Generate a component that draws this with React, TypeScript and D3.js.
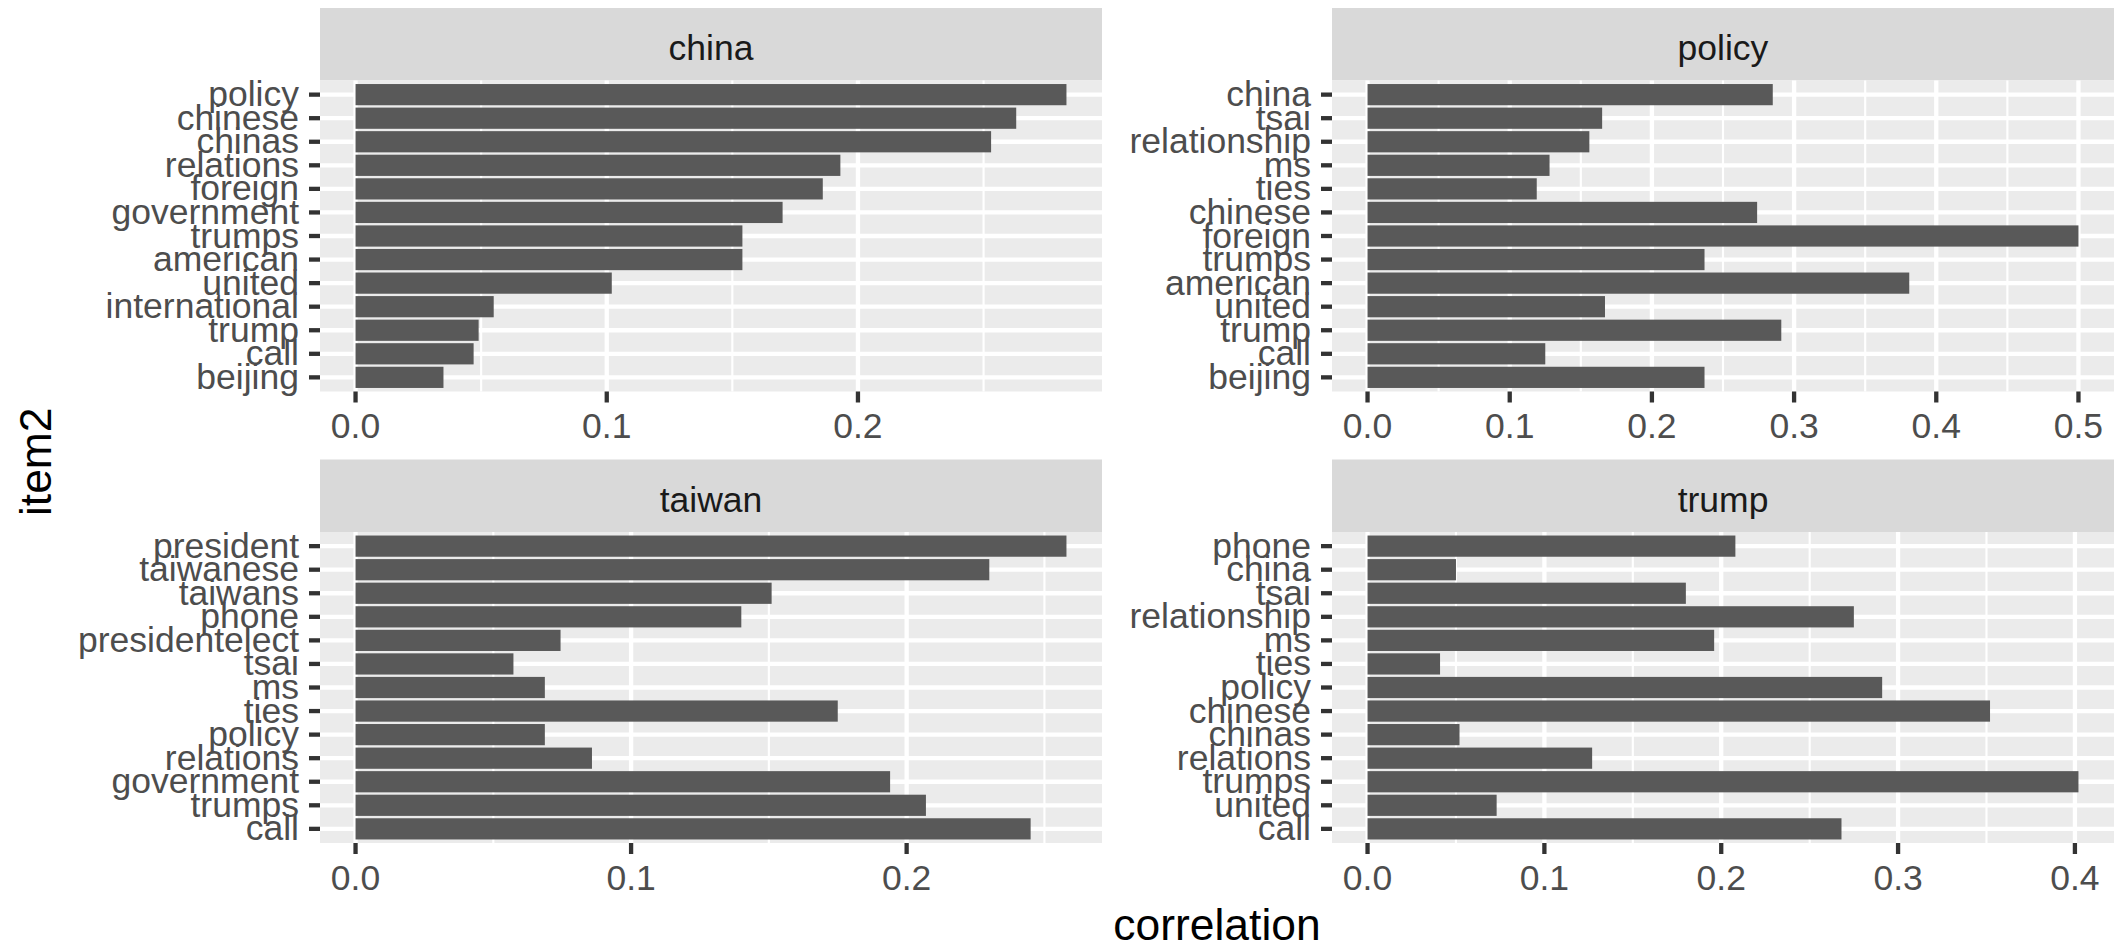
import React from "react";
import * as d3 from "d3";

const facetNames = ["china", "policy", "taiwan", "trump"];

const chinaTerms = ["policy", "chinese", "chinas", "relations", "foreign", "government", "trumps", "american", "united", "international", "trump", "call", "beijing"];
const chinaValues = [0.283, 0.263, 0.253, 0.193, 0.186, 0.17, 0.154, 0.154, 0.102, 0.055, 0.049, 0.047, 0.035];

const policyTerms = ["china", "tsai", "relationship", "ms", "ties", "chinese", "foreign", "trumps", "american", "united", "trump", "call", "beijing"];
const policyValues = [0.285, 0.165, 0.156, 0.128, 0.119, 0.274, 0.5, 0.237, 0.381, 0.167, 0.291, 0.125, 0.237];

const taiwanTerms = ["president", "taiwanese", "taiwans", "phone", "presidentelect", "tsai", "ms", "ties", "policy", "relations", "government", "trumps", "call"];
const taiwanValues = [0.258, 0.23, 0.151, 0.14, 0.0744, 0.0573, 0.0687, 0.175, 0.0687, 0.0858, 0.194, 0.207, 0.245];

const trumpTerms = ["phone", "china", "tsai", "relationship", "ms", "ties", "policy", "chinese", "chinas", "relations", "trumps", "united", "call"];
const trumpValues = [0.208, 0.05, 0.18, 0.275, 0.196, 0.041, 0.291, 0.352, 0.052, 0.127, 0.402, 0.073, 0.268];

const chinaTicks = [0, 0.1, 0.2];
const policyTicks = [0, 0.1, 0.2, 0.3, 0.4, 0.5];
const taiwanTicks = [0, 0.1, 0.2];
const trumpTicks = [0, 0.1, 0.2, 0.3, 0.4];

const xTitle = "correlation";
const yTitle = "item2";

const W = 2122;
const H = 950;
const FONT = "'Liberation Sans', Arial, Helvetica, sans-serif";
const TICK_FS = 35.5;
const TITLE_FS = 44.4;
const colX = [320, 1332];
const panelW = 782;
const stripTop = [8, 459.5];
const stripH = 72.5;
const panelH = 311;

const panels = [
  { name: facetNames[0], terms: chinaTerms, values: chinaValues, ticks: chinaTicks, col: 0, row: 0 },
  { name: facetNames[1], terms: policyTerms, values: policyValues, ticks: policyTicks, col: 1, row: 0 },
  { name: facetNames[2], terms: taiwanTerms, values: taiwanValues, ticks: taiwanTicks, col: 0, row: 1 },
  { name: facetNames[3], terms: trumpTerms, values: trumpValues, ticks: trumpTicks, col: 1, row: 1 },
];

const fmt = d3.format(".1f");

function Panel({ p }: { p: typeof panels[number] }) {
  const px = colX[p.col];
  const sy = stripTop[p.row];
  const py = sy + stripH;
  const max = d3.max(p.values) as number;
  const x = d3.scaleLinear().domain([-0.05 * max, 1.05 * max]).range([px, px + panelW]);
  const y = d3.scalePoint<string>().domain(p.terms).range([py, py + panelH]).padding(0.6);
  const step = y.step();
  const [d0, d1] = x.domain();
  const minor: number[] = [];
  for (let i = 0; i < p.ticks.length; i++) {
    const m = p.ticks[i] + 0.05;
    if (m >= d0 && m <= d1) minor.push(m);
  }
  return (
    <g>
      <rect x={px} y={sy} width={panelW} height={stripH} fill="#D9D9D9" />
      <text
        x={px + panelW / 2}
        y={sy + stripH / 2 + 16}
        textAnchor="middle"
        fontSize={TICK_FS}
        fill="#1A1A1A"
        fontFamily={FONT}
      >
        {p.name}
      </text>
      <rect x={px} y={py} width={panelW} height={panelH} fill="#EBEBEB" />
      {minor.map((m) => (
        <line key={"mi" + m} x1={x(m)} x2={x(m)} y1={py} y2={py + panelH} stroke="#FFFFFF" strokeWidth={2.15} />
      ))}
      {p.ticks.map((t) => (
        <line key={"ma" + t} x1={x(t)} x2={x(t)} y1={py} y2={py + panelH} stroke="#FFFFFF" strokeWidth={4.3} />
      ))}
      {p.terms.map((t) => (
        <line key={"hg" + t} x1={px} x2={px + panelW} y1={y(t)} y2={y(t)} stroke="#FFFFFF" strokeWidth={4.3} />
      ))}
      {p.terms.map((t, i) => (
        <rect
          key={"b" + t}
          x={x(0)}
          y={(y(t) as number) - 0.45 * step}
          width={x(p.values[i]) - x(0)}
          height={0.9 * step}
          fill="#595959"
        />
      ))}
      {p.terms.map((t) => (
        <g key={"yl" + t}>
          <line x1={px - 11} x2={px} y1={y(t)} y2={y(t)} stroke="#333333" strokeWidth={4.3} />
          <text
            x={px - 21}
            y={(y(t) as number) + 11.5}
            textAnchor="end"
            fontSize={TICK_FS}
            fill="#4D4D4D"
            fontFamily={FONT}
          >
            {t}
          </text>
        </g>
      ))}
      {p.ticks.map((t) => (
        <g key={"xl" + t}>
          <line x1={x(t)} x2={x(t)} y1={py + panelH} y2={py + panelH + 11} stroke="#333333" strokeWidth={4.3} />
          <text
            x={x(t)}
            y={py + panelH + 46.5}
            textAnchor="middle"
            fontSize={TICK_FS}
            fill="#4D4D4D"
            fontFamily={FONT}
          >
            {fmt(t)}
          </text>
        </g>
      ))}
    </g>
  );
}

export default function App() {
  const plotLeft = colX[0];
  const plotRight = colX[1] + panelW;
  const plotTop = stripTop[0] + stripH;
  const plotBottom = stripTop[1] + stripH + panelH;
  return (
    <svg
      width={W}
      height={H}
      viewBox={`0 0 ${W} ${H}`}
      style={{ position: "absolute", left: 0, top: 0, background: "#FFFFFF" }}
    >
      <rect x={0} y={0} width={W} height={H} fill="#FFFFFF" />
      {panels.map((p) => (
        <Panel key={p.name} p={p} />
      ))}
      <text
        x={(plotLeft + plotRight) / 2}
        y={940}
        textAnchor="middle"
        fontSize={TITLE_FS}
        fill="#000000"
        fontFamily={FONT}
      >
        {xTitle}
      </text>
      <text
        transform={`translate(51, ${(plotTop + plotBottom) / 2}) rotate(-90)`}
        textAnchor="middle"
        fontSize={TITLE_FS}
        fill="#000000"
        fontFamily={FONT}
      >
        {yTitle}
      </text>
    </svg>
  );
}
